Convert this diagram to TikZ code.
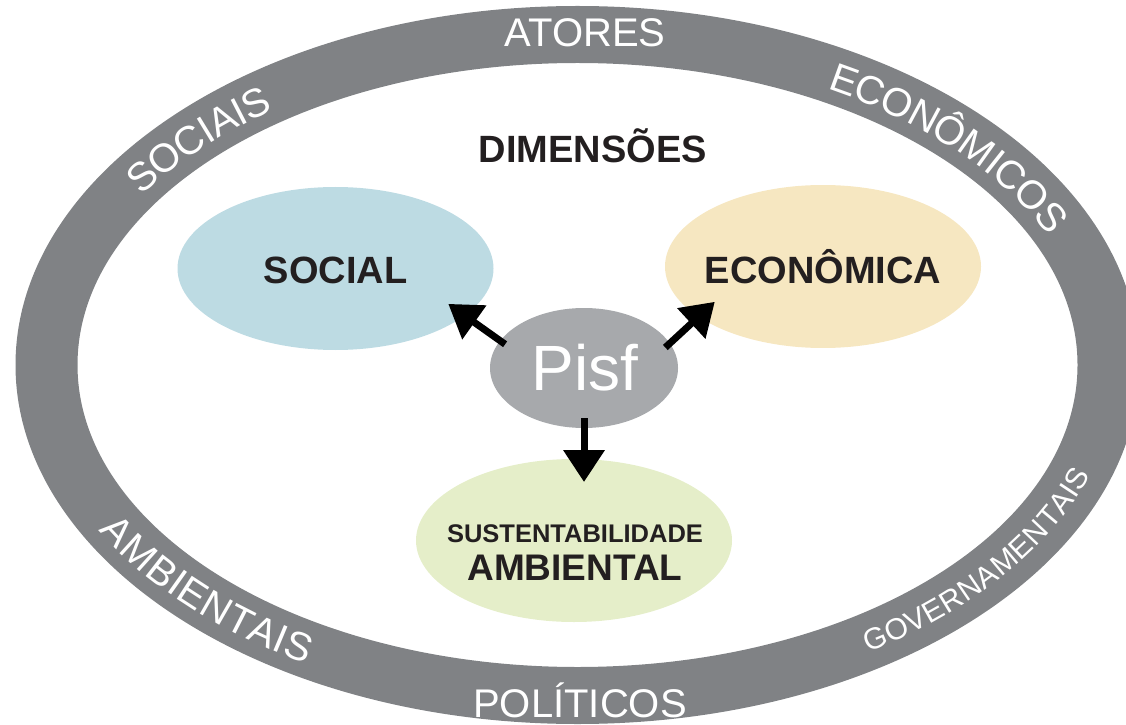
\documentclass[tikz,border=0pt]{standalone}
\usepackage{fontspec}
\setmainfont{Liberation Sans}
\usetikzlibrary{shapes.geometric,arrows.meta,decorations.text}
\definecolor{ringgray}{RGB}{128,130,133}
\definecolor{pisfgray}{RGB}{167,169,172}
\definecolor{socialblue}{RGB}{189,219,227}
\definecolor{econyellow}{RGB}{246,231,193}
\definecolor{sustgreen}{RGB}{229,238,201}
\definecolor{labelblack}{RGB}{35,31,32}
\newcommand{\ringfont}{\fontsize{40}{42}\selectfont}

\begin{document}
\begin{tikzpicture}[x=1pt,y=1pt]
        \tikzstyle{every node}=[inner sep=0pt, outer sep=0pt]
        \tikzstyle{dim}=[ellipse, minimum width=316pt, minimum height=163pt]
        \tikzstyle{dimlabel}=[anchor=base, text=labelblack, font=\bfseries\fontsize{38}{40}\selectfont]
        \tikzstyle{ringlabel}=[anchor=base, text=white, font=\ringfont]
        \tikzstyle{flow}=[line width=7pt, -{Triangle[length=32pt,width=40pt]}, shorten <=-6pt]
        \tikzstyle{ringtext}=[decorate, decoration={text along path, text color=white, text align=center, raise=-14.3pt}]
        \useasboundingbox (0,0) rectangle (1126,724);
        \clip (0,0) rectangle (1126,724);
        \coordinate (ring) at (577.5,359);
        \fill[ringgray, even odd rule] (ring) ellipse [x radius=562pt, y radius=359pt] (ring) ellipse [x radius=500pt, y radius=302pt];
        \node[ringlabel] (atores) at (585,677) {ATORES};
        \node[ringlabel] (politicos) at (580,7) {POLÍTICOS};
        \path[ringtext, decoration={text={|\ringfont|SOCIAIS}}] (ring) ++(154:531pt and 330pt) arc [start angle=154, end angle=120, x radius=531pt, y radius=330pt];
        \path[ringtext, decoration={text={|\ringfont|ECONÔMICOS}}] (ring) ++(67:531pt and 330pt) arc [start angle=67, end angle=17, x radius=531pt, y radius=330pt];
        \path[ringtext, decoration={text={|\ringfont|AMBIENTAIS}}] (ring) ++(200:531pt and 330pt) arc [start angle=200, end angle=246, x radius=531pt, y radius=330pt];
        \path[ringtext, decoration={text={|\fontsize{30}{32}\selectfont|GOVERNAMENTAIS}, raise=-10.7pt}] (ring) ++(294:531pt and 330pt) arc [start angle=294, end angle=354, x radius=531pt, y radius=330pt];
        \node[dimlabel] (dimensoes) at (593,561) {DIMENSÕES};
        \node[dim, fill=socialblue] (social) at (335.5,455.5) {};
        \node[dim, fill=econyellow] (econ) at (823,457.5) {};
        \node[dim, fill=sustgreen] (sust) at (574,183.5) {};
        \node[ellipse, minimum width=188pt, minimum height=120pt, fill=pisfgray] (pisf) at (584,356) {};
        \node[dimlabel] (social-t) at (335.5,441) {SOCIAL};
        \node[dimlabel] (econ-t) at (823,441) {ECONÔMICA};
        \node[dimlabel, font=\bfseries\fontsize{25.5}{28}\selectfont] (sust-t1) at (575,182) {SUSTENTABILIDADE};
        \node[dimlabel, font=\bfseries\fontsize{37}{40}\selectfont] (sust-t2) at (575,144) {AMBIENTAL};
        \node[anchor=base, text=white, font=\fontsize{64}{70}\selectfont] (pisf-t) at (585,334) {Pisf};
        \draw[flow, shorten >=-20pt] (pisf.162) -- (social.-20);
        \draw[flow, shorten >=-22pt] (pisf.16) -- (econ.202);
        \draw[flow, shorten <=-10pt, shorten >=-23pt] (pisf.south) -- (pisf.south |- sust.north);
\end{tikzpicture}
\end{document}
